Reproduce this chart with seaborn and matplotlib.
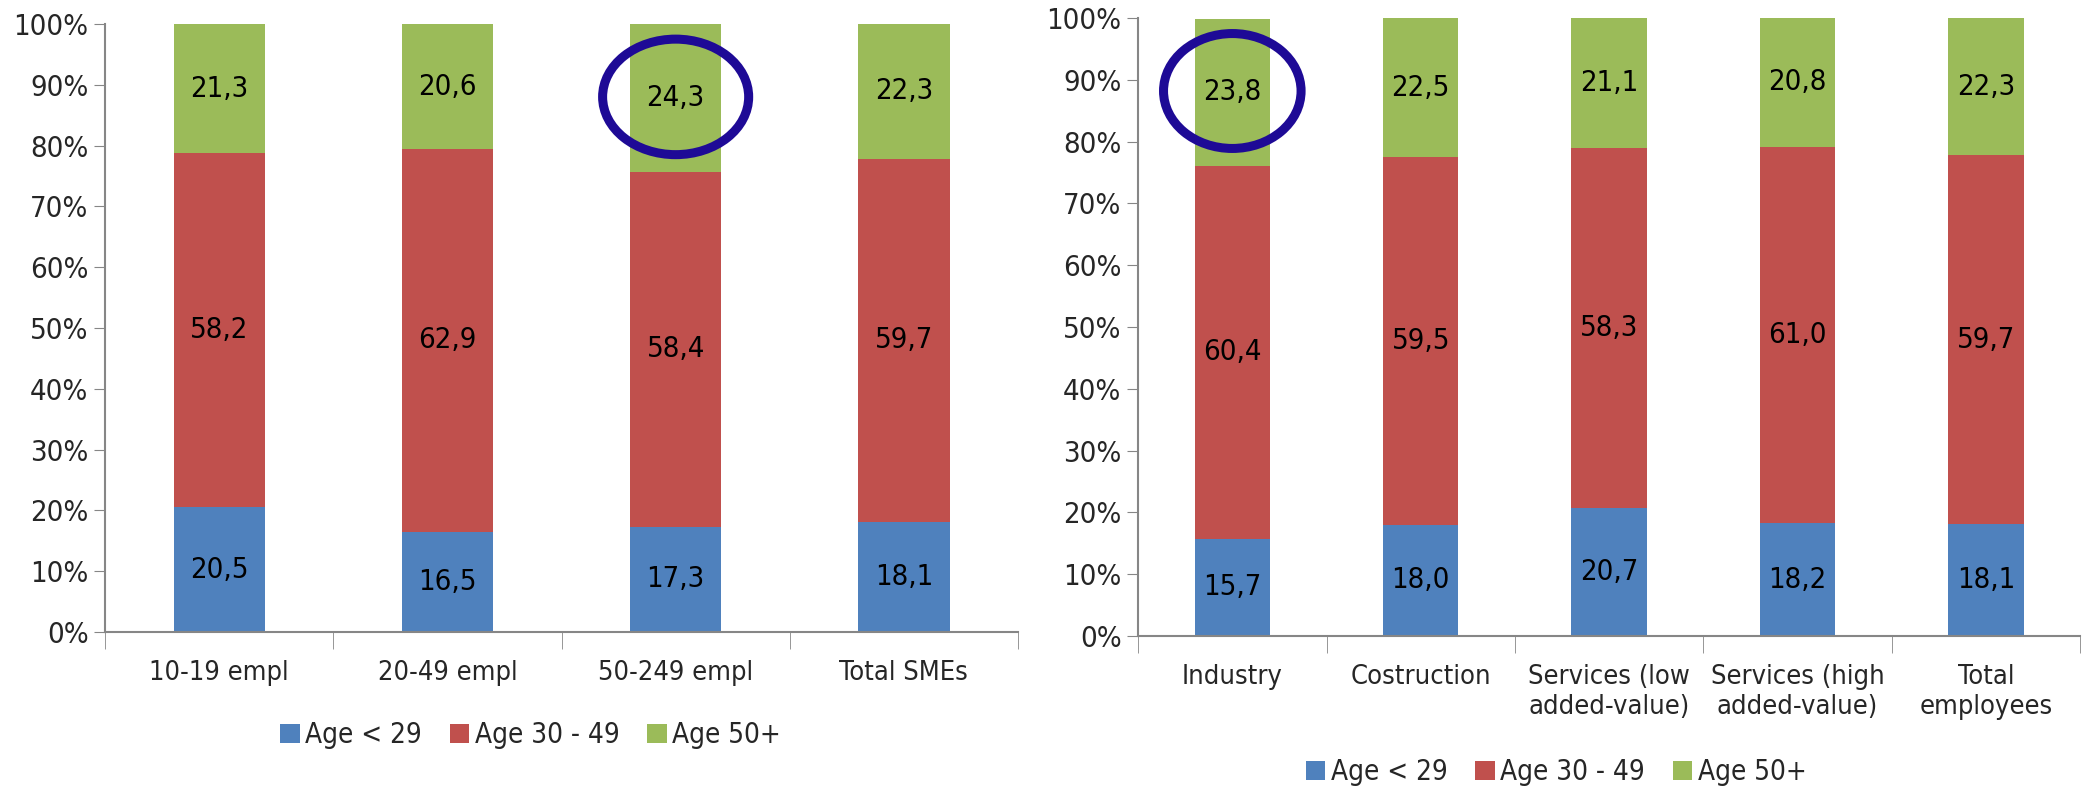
import numpy as np
import matplotlib
matplotlib.use("Agg")
import matplotlib.pyplot as plt
from matplotlib.patches import Ellipse, Patch
from matplotlib.ticker import FixedLocator
import seaborn as sns

# Data
size_cats = ['10-19 empl', '20-49 empl', '50-249 empl', 'Total SMEs']
size_young = [20.5, 16.5, 17.3, 18.1]
size_mid = [58.2, 62.9, 58.4, 59.7]
size_old = [21.3, 20.6, 24.3, 22.3]

sector_cats = ['Industry', 'Costruction', 'Services (low\nadded-value)',
               'Services (high\nadded-value)', 'Total\nemployees']
sector_young = [15.7, 18.0, 20.7, 18.2, 18.1]
sector_mid = [60.4, 59.5, 58.3, 61.0, 59.7]
sector_old = [23.8, 22.5, 21.1, 20.8, 22.3]

series_names = ['Age < 29', 'Age 30 - 49', 'Age 50+']
colors = ['#4F81BD', '#C0504D', '#9BBB59']

sns.set_style('white')
plt.rcParams['font.family'] = ['DejaVu Sans']
plt.rcParams['font.stretch'] = 'condensed'

fig = plt.figure(figsize=(20.89, 7.87), dpi=100)
ax1 = fig.add_axes([0.0503, 0.197, 0.437, 0.7726])
ax2 = fig.add_axes([0.5448, 0.192, 0.451, 0.785])


def stacked(ax, cats, parts):
    bottom = np.zeros(len(cats))
    for vals, col in zip(parts, colors):
        sns.barplot(x=cats, y=vals, bottom=bottom, color=col, width=0.4,
                    order=cats, ax=ax, saturation=1, linewidth=0)
        cont = ax.containers[-1]
        ax.bar_label(cont, labels=[f'{v:.1f}'.replace('.', ',') for v in vals],
                     label_type='center', fontsize=21, color='black')
        bottom = bottom + np.array(vals)

    ax.set_ylim(0, 100)
    ax.set_xlim(-0.5, len(cats) - 0.5)
    ax.set_yticks(np.arange(0, 101, 10))
    ax.set_yticklabels([f'{t}%' for t in range(0, 101, 10)], fontsize=21)
    ax.tick_params(axis='y', length=8, color='#868686', direction='out',
                   left=True, pad=4)
    ax.tick_params(axis='x', which='major', length=0, labelsize=19.5, pad=20)
    ax.xaxis.set_minor_locator(FixedLocator(np.arange(-0.5, len(cats), 1)))
    ax.tick_params(axis='x', which='minor', length=12, color='#868686',
                   direction='out', bottom=True)
    for s in ['top', 'right']:
        ax.spines[s].set_visible(False)
    for s in ['left', 'bottom']:
        ax.spines[s].set_color('#868686')
        ax.spines[s].set_linewidth(1.5)
    ax.set_xlabel('')
    ax.set_ylabel('')


stacked(ax1, size_cats, [size_young, size_mid, size_old])
stacked(ax2, sector_cats, [sector_young, sector_mid, sector_old])

# Highlight circles
ax1.add_patch(Ellipse((2, 88), 0.64, 19, fill=False, edgecolor='#1E0A96',
                      linewidth=6.5, clip_on=False, zorder=5))
ax2.add_patch(Ellipse((0, 88.2), 0.73, 18.6, fill=False, edgecolor='#1E0A96',
                      linewidth=6.5, clip_on=False, zorder=5))

handles = [Patch(facecolor=c, edgecolor='none') for c in colors]
for pos in [(0.254, 0.066), (0.745, 0.019)]:
    fig.legend(handles, series_names, loc='center', bbox_to_anchor=pos, ncol=3,
               frameon=False, fontsize=20, handlelength=0.7, handleheight=0.7,
               handletextpad=0.2, columnspacing=1.0)

fig.savefig('out.png', dpi=100)
